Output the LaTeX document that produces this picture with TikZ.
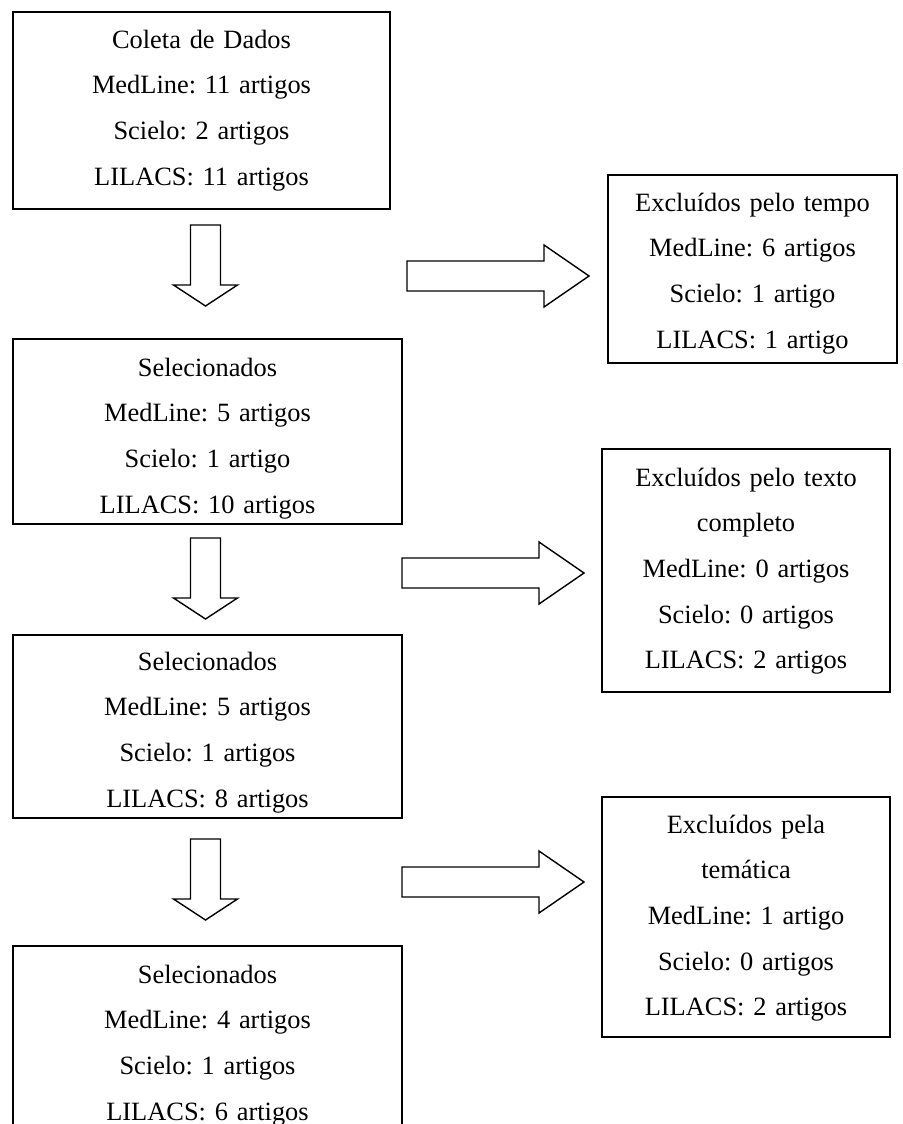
\documentclass[tikz,border=0pt]{standalone}
\usepackage{fontspec}
\setmainfont{Liberation Serif}
\frenchspacing
\usetikzlibrary{positioning}
\tikzset{
  box/.style={draw, line width=1pt, inner sep=0pt, align=center, anchor=north west,
    font=\fontsize{13.2}{22.85}\selectfont},
  blockline/.style={draw, line width=0.7pt, line join=miter, fill=white},
  downarrow/.pic={\path[blockline] (-15,0) -- (15,0) -- (15,60) -- (32,60) -- (0,81) -- (-32,60) -- (-15,60) -- cycle;},
  rightarrow/.pic={\path[blockline] (0,-15) -- (137,-15) -- (137,-31) -- (182,0) -- (137,31) -- (137,15) -- (0,15) -- cycle;}
}

\begin{document}
\begin{tikzpicture}[x=0.5pt, y=-0.5pt]
  \useasboundingbox (0,0) rectangle (902,1124);

  % left column
  \node (coleta) [box, text width=188.5pt, text height=18pt, text depth=80.5pt] at (12,11)
    {Coleta de Dados\\MedLine: 11 artigos\\Scielo: 2 artigos\\LILACS: 11 artigos};

  \node (sel1) [box, below=64pt of coleta.south west, anchor=north west,
    text width=194.5pt, text height=18.5pt, text depth=74pt]
    {Selecionados\\MedLine: 5 artigos\\Scielo: 1 artigo\\LILACS: 10 artigos};

  \node (sel2) [box, below=54.5pt of sel1.south west, anchor=north west,
    text width=194.5pt, text height=17.5pt, text depth=74pt]
    {Selecionados\\MedLine: 5 artigos\\Scielo: 1 artigos\\LILACS: 8 artigos};

  \node (sel3) [box, below=63pt of sel2.south west, anchor=north west,
    text width=194.5pt, text height=18.5pt, text depth=77pt]
    {Selecionados\\MedLine: 4 artigos\\Scielo: 1 artigos\\LILACS: 6 artigos};

  % right column
  \node (excl1) [box, text width=144.5pt, text height=18pt, text depth=76pt] at (607,174)
    {Excluídos pelo tempo\\MedLine: 6 artigos\\Scielo: 1 artigo\\LILACS: 1 artigo};

  \node (excl2) [box, text width=144pt, text height=18.5pt, text depth=103pt] at (601,448)
    {Excluídos pelo texto\\completo\\MedLine: 0 artigos\\Scielo: 0 artigos\\LILACS: 2 artigos};

  \node (excl3) [box, text width=144pt, text height=18pt, text depth=102pt] at (601,796)
    {Excluídos pela\\temática\\MedLine: 1 artigo\\Scielo: 0 artigos\\LILACS: 2 artigos};

  % block arrows
  \pic (down1) at (205.5,225) {downarrow};
  \pic (down2) at (205.5,538) {downarrow};
  \pic (down3) at (205.5,839) {downarrow};

  \pic (right1) at (407,276) {rightarrow};
  \pic (right2) at (402,573) {rightarrow};
  \pic (right3) at (402,882) {rightarrow};
\end{tikzpicture}
\end{document}
